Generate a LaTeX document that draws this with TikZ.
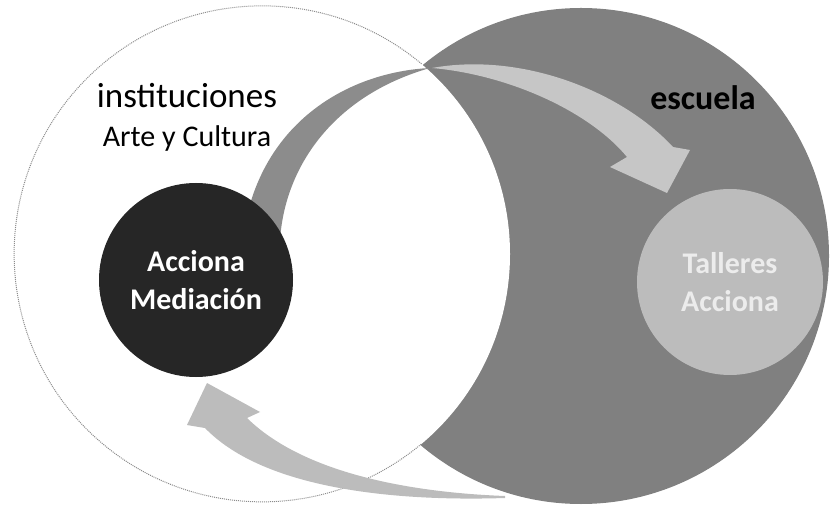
\documentclass[tikz,border=0pt]{standalone}
\usepackage{fontspec}
\setmainfont{Carlito}
\usepackage{xcolor}
\definecolor{Col1}{RGB}{128,128,128}
\definecolor{Col2}{RGB}{140,140,140}
\definecolor{Col3}{RGB}{38,38,38}
\definecolor{Col4}{RGB}{198,198,198}
\definecolor{Col5}{RGB}{188,188,188}
\definecolor{Col6}{RGB}{140,140,140}
\definecolor{Col7}{RGB}{236,236,236}
\usepackage{tikz}
\usetikzlibrary{shapes}
\tikzstyle{Ring}=[circle,inner sep=0pt,minimum size=496pt]
\tikzstyle{Disc}=[circle,inner sep=0pt,align=center,
font=\fontsize{30}{38}\selectfont\bfseries]
\tikzstyle{Outline}=[draw=Col6,densely dotted,line width=1pt]
\tikzstyle{NodeST}=[anchor=base,inner sep=0pt]

\begin{document}
\begin{tikzpicture}[x=1pt,y=-1pt]
        \useasboundingbox (0,0) rectangle (832,510);
        \node[Ring,fill=Col1](G)at(581,256){};
        \node[Ring,fill=white](W)at(262,254){};
        \draw[Outline](W.50) arc[start angle=50,end angle=310,radius=248pt];
        % band behind the dark disc
        \fill[Col2](430,68) .. controls (350,72) and (265,120) .. (245,225)
            -- (280,240) .. controls (285,165) and (335,95) .. (430,68);
        \node[Disc,fill=Col3,text=white,minimum size=194pt](M)at(196,280){Acciona\\Mediación};
        % top arrow
        \fill[Col4](432,68) .. controls (520,52) and (620,90) .. (673,147)
            -- (690,150) -- (667,193) -- (610,167) -- (627,157)
            .. controls (590,112) and (510,75) .. (432,68);
        \node[Disc,fill=Col5,text=Col7,minimum size=186pt](T)at(730,282){Talleres\\Acciona};
        % bottom arrow
        \fill[Col5](505,496) .. controls (400,492) and (300,470) .. (247,418)
            -- (260,412) -- (207,383) -- (187,425) -- (205,428)
            .. controls (260,485) and (380,502) .. (505,498);
        \node[NodeST,font=\fontsize{35}{40}\selectfont](i)at(187,108){instituciones};
        \node[NodeST,font=\fontsize{30}{36}\selectfont](a)at(187,147){Arte y Cultura};
        \node[NodeST,font=\fontsize{34}{40}\selectfont\bfseries](e)at(703,110){escuela};
    \end{tikzpicture}
\end{document}
